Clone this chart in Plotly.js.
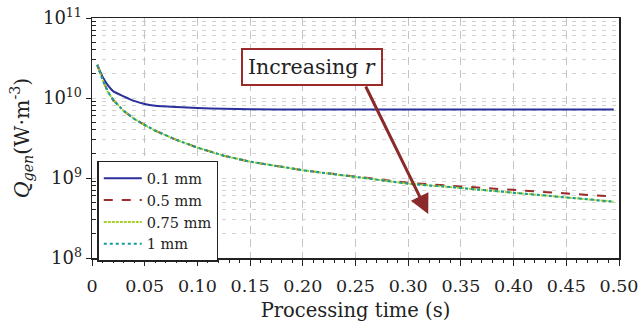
<!DOCTYPE html>
<html><head><meta charset="utf-8">
<script src="https://cdn.plot.ly/plotly-3.0.1.min.js"></script>
<style>html,body{margin:0;padding:0;background:#fff}#chart{width:641px;height:322px}</style>
</head><body><div id="chart"></div>
<script>
const time = [0.005,0.01,0.015,0.02,0.03,0.04,0.05,0.06,0.08,0.1,0.125,0.15,0.2,0.25,0.3,0.35,0.4,0.45,0.495];
const q01 = [2.6e10,1.85e10,1.45e10,1.22e10,1.05e10,9.2e9,8.4e9,8.0e9,7.7e9,7.5e9,7.32e9,7.22e9,7.2e9,7.2e9,7.2e9,7.2e9,7.2e9,7.2e9,7.2e9];
const q05 = [2.6e10,1.7e10,1.2e10,9.5e9,6.9e9,5.5e9,4.6e9,3.9e9,3.0e9,2.4e9,1.9e9,1.6e9,1.25e9,1.05e9,8.7e8,7.85e8,7.1e8,6.4e8,5.85e8];
const q075 = [2.6e10,1.7e10,1.2e10,9.5e9,6.9e9,5.5e9,4.6e9,3.9e9,3.0e9,2.4e9,1.9e9,1.6e9,1.25e9,1.04e9,8.5e8,7.5e8,6.5e8,5.7e8,5.06e8];
const q1 = [2.6e10,1.7e10,1.2e10,9.5e9,6.9e9,5.5e9,4.6e9,3.9e9,3.0e9,2.4e9,1.9e9,1.6e9,1.25e9,1.04e9,8.5e8,7.5e8,6.5e8,5.7e8,5.06e8];
const seriesNames = ['0.1 mm','0.5 mm','0.75 mm','1 mm'];
const xTickVals = [0,0.05,0.1,0.15,0.2,0.25,0.3,0.35,0.4,0.45,0.5];
const xTickText = ['0','0.05','0.10','0.15','0.20','0.25','0.30','0.35','0.40','0.45','0.50'];
const yTickVals = [1e8,1e9,1e10,1e11];
const yTickText = ['10<sup>8</sup>','10<sup>9</sup>','10<sup>10</sup>','10<sup>11</sup>'];
const yMinorVals = [];
[1e8,1e9,1e10].forEach(d=>{for(let k=2;k<=9;k++) yMinorVals.push(k*d);});
const annText = 'Increasing <i>r</i>';
const arrowTail = [0.259, 10.1625];
const arrowHead = [0.319, 8.55];
const boxPos = [0.209, 10.3875];

const font = 'DejaVu Serif';
const dark = '#222';
const traces = [
 {x:time,y:q01,name:seriesNames[0],mode:'lines',line:{color:'#2b2f9b',width:2,shape:'spline',smoothing:0.6}},
 {x:time,y:q05,name:seriesNames[1],mode:'lines',line:{color:'#9b2a2a',width:2,dash:'dash'}},
 {x:time,y:q075,name:seriesNames[2],mode:'lines',line:{color:'#a6cf2a',width:2,dash:'3px,1px'}},
 {x:time,y:q1,name:seriesNames[3],mode:'lines',line:{color:'#159c9c',width:2,dash:'dot'}}
];
const layout = {
 width:641,height:322,
 margin:{l:92,r:22,t:18,b:64},
 paper_bgcolor:'#fff',plot_bgcolor:'#fff',
 font:{family:font,color:dark,size:18},
 showlegend:true,
 legend:{x:0.01,y:0.405,xanchor:'left',yanchor:'top',bgcolor:'#fff',bordercolor:dark,borderwidth:1.5,
   font:{family:font,size:14.5,color:dark},tracegroupgap:0,itemwidth:38},
 xaxis:{range:[0,0.5],tickmode:'array',tickvals:xTickVals,ticktext:xTickText,
   ticks:'outside',ticklen:6,tickcolor:dark,showline:true,linecolor:dark,linewidth:1.5,mirror:true,
   showgrid:true,gridcolor:'#c4c4c4',griddash:'8px,5px',gridwidth:1,zeroline:false,
   tickfont:{family:font,size:17.5,color:dark},ticklabelstandoff:5,
   minor:{dtick:0.01,ticks:'outside',ticklen:3,tickcolor:dark,showgrid:false},
   title:{text:'Processing time (s)',font:{family:font,size:19.5,color:dark},standoff:9}},
 yaxis:{type:'log',range:[8,11],tickmode:'array',tickvals:yTickVals,ticktext:yTickText,
   ticks:'outside',ticklen:5,tickcolor:dark,showline:true,linecolor:dark,linewidth:1.5,mirror:true,
   showgrid:true,gridcolor:'#d2d2d2',griddash:'4px,6px',gridwidth:1,zeroline:false,
   tickfont:{family:font,size:18,color:dark},
   minor:{tickmode:'array',tickvals:yMinorVals,ticks:'inside',ticklen:4,tickcolor:dark,showgrid:true,gridcolor:'#d2d2d2',griddash:'4px,6px',gridwidth:1},
   title:{text:'<i>Q<sub>gen</sub></i>(W·m<sup>-3</sup>)',font:{family:font,size:20.5,color:dark},standoff:8}},
 annotations:[
  {x:boxPos[0],y:boxPos[1],xref:'x',yref:'y',text:annText,showarrow:false,
   font:{family:font,size:20.5,color:dark},bgcolor:'#fff',bordercolor:'#9b2a2a',borderwidth:2,borderpad:5},
  {x:arrowHead[0],y:arrowHead[1],ax:arrowTail[0],ay:arrowTail[1],axref:'x',ayref:'y',xref:'x',yref:'y',
   text:'',showarrow:true,arrowhead:2,arrowsize:1.3,arrowwidth:3,arrowcolor:'#8b2a2a'}
 ]
};
Plotly.newPlot('chart',traces,layout,{displayModeBar:false,staticPlot:true});
</script></body></html>
